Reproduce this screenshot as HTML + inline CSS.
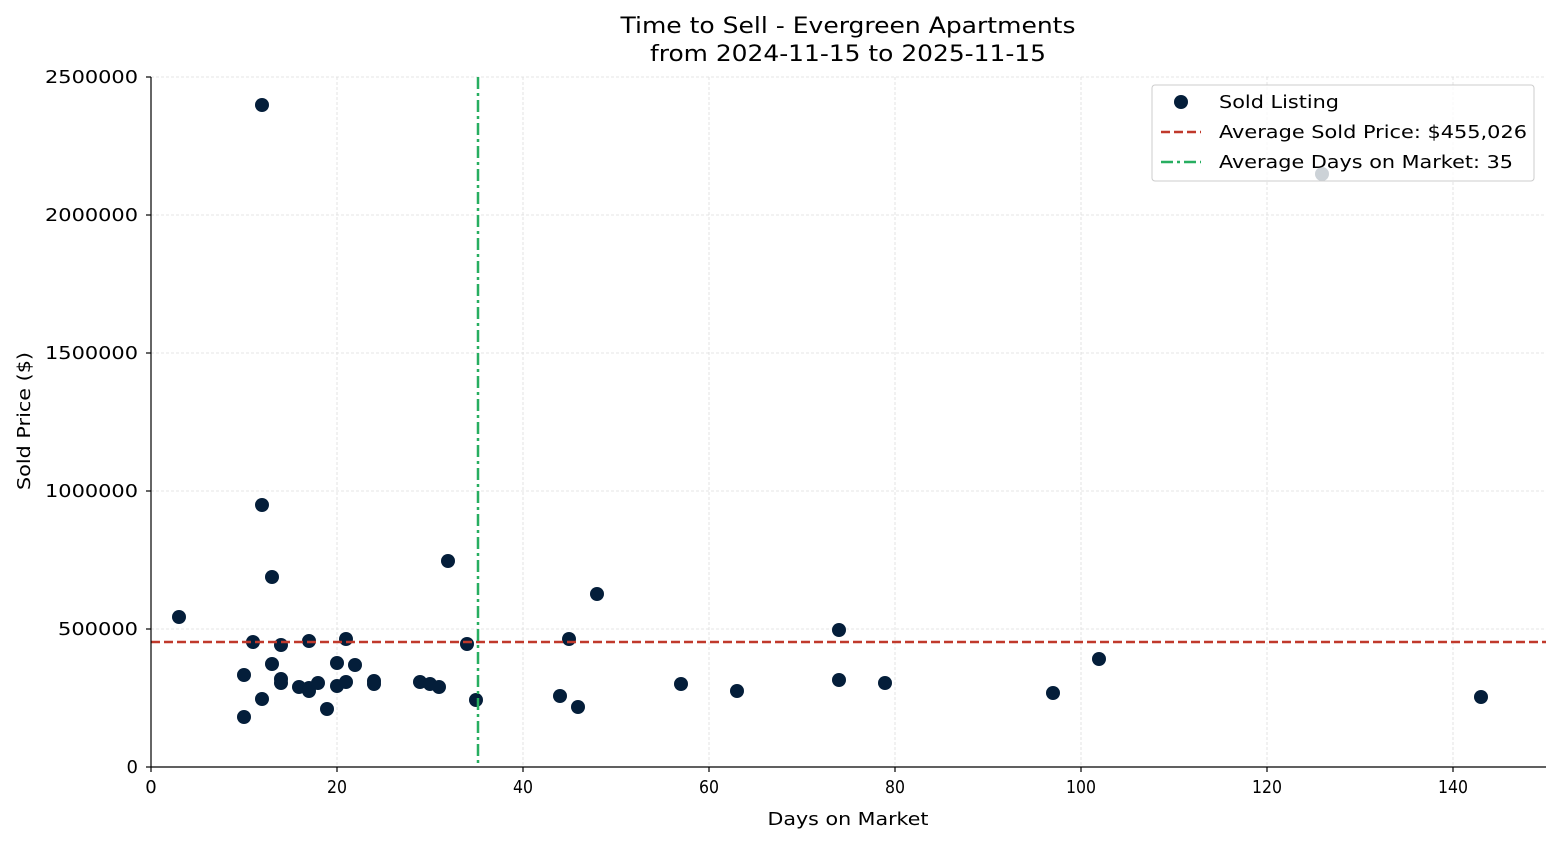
<!DOCTYPE html>
<html><head><meta charset="utf-8"><style>body{margin:0;background:#fff}svg{display:block}text{font-family:"DejaVu Sans",sans-serif;fill:#000}</style></head><body>
<svg width="1560" height="845" viewBox="0 0 1560 845">
<g stroke="#ddd" stroke-width="0.8" stroke-dasharray="3,2">
<line x1="151" y1="77" x2="151" y2="767"/><line x1="337" y1="77" x2="337" y2="767"/><line x1="523" y1="77" x2="523" y2="767"/><line x1="709" y1="77" x2="709" y2="767"/><line x1="895" y1="77" x2="895" y2="767"/><line x1="1081" y1="77" x2="1081" y2="767"/><line x1="1267" y1="77" x2="1267" y2="767"/><line x1="1453" y1="77" x2="1453" y2="767"/>
<line x1="151" y1="629" x2="1546" y2="629"/><line x1="151" y1="491" x2="1546" y2="491"/><line x1="151" y1="353" x2="1546" y2="353"/><line x1="151" y1="215" x2="1546" y2="215"/><line x1="151" y1="77" x2="1546" y2="77"/>
</g>
<g fill="#041e3a">
<circle cx="179" cy="617" r="7"/><circle cx="262" cy="105" r="7"/><circle cx="262" cy="505" r="7"/><circle cx="272" cy="577" r="7"/><circle cx="253" cy="642" r="7"/><circle cx="281" cy="645" r="7"/><circle cx="309" cy="641" r="7"/><circle cx="346" cy="639" r="7"/><circle cx="244" cy="675" r="7"/><circle cx="272" cy="664" r="7"/><circle cx="281" cy="679" r="7"/><circle cx="281" cy="683" r="7"/><circle cx="299" cy="687" r="7"/><circle cx="309" cy="688" r="7"/><circle cx="309" cy="691" r="7"/><circle cx="318" cy="683" r="7"/><circle cx="337" cy="663" r="7"/><circle cx="337" cy="686" r="7"/><circle cx="346" cy="682" r="7"/><circle cx="355" cy="665" r="7"/><circle cx="374" cy="681" r="7"/><circle cx="374" cy="684" r="7"/><circle cx="327" cy="709" r="7"/><circle cx="262" cy="699" r="7"/><circle cx="244" cy="717" r="7"/><circle cx="420" cy="682" r="7"/><circle cx="430" cy="684" r="7"/><circle cx="439" cy="687" r="7"/><circle cx="448" cy="561" r="7"/><circle cx="467" cy="644" r="7"/><circle cx="476" cy="700" r="7"/><circle cx="560" cy="696" r="7"/><circle cx="569" cy="639" r="7"/><circle cx="578" cy="707" r="7"/><circle cx="597" cy="594" r="7"/><circle cx="681" cy="684" r="7"/><circle cx="737" cy="691" r="7"/><circle cx="839" cy="630" r="7"/><circle cx="839" cy="680" r="7"/><circle cx="885" cy="683" r="7"/><circle cx="1053" cy="693" r="7"/><circle cx="1099" cy="659" r="7"/><circle cx="1322" cy="174" r="7"/><circle cx="1481" cy="697" r="7"/>
</g>
<line x1="151" y1="642" x2="1546" y2="642" stroke="#c0392b" stroke-width="2.5" stroke-dasharray="9,4"/>
<line x1="478" y1="77" x2="478" y2="767" stroke="#27ae60" stroke-width="2.5" stroke-dasharray="12,4,3,4"/>
<g stroke="#000" stroke-width="1.2">
<line x1="151" y1="77" x2="151" y2="767"/><line x1="151" y1="767" x2="1546" y2="767"/>
<line x1="151" y1="767" x2="151" y2="772"/><line x1="337" y1="767" x2="337" y2="772"/><line x1="523" y1="767" x2="523" y2="772"/><line x1="709" y1="767" x2="709" y2="772"/><line x1="895" y1="767" x2="895" y2="772"/><line x1="1081" y1="767" x2="1081" y2="772"/><line x1="1267" y1="767" x2="1267" y2="772"/><line x1="1453" y1="767" x2="1453" y2="772"/>
<line x1="146" y1="767" x2="151" y2="767"/><line x1="146" y1="629" x2="151" y2="629"/><line x1="146" y1="491" x2="151" y2="491"/><line x1="146" y1="353" x2="151" y2="353"/><line x1="146" y1="215" x2="151" y2="215"/><line x1="146" y1="77" x2="151" y2="77"/>
</g>
<g font-size="18" text-anchor="middle">
<text x="151" y="793">0</text><text x="337" y="793" textLength="20" lengthAdjust="spacingAndGlyphs">20</text><text x="523" y="793" textLength="20" lengthAdjust="spacingAndGlyphs">40</text><text x="709" y="793" textLength="20" lengthAdjust="spacingAndGlyphs">60</text><text x="895" y="793" textLength="20" lengthAdjust="spacingAndGlyphs">80</text><text x="1081" y="793" textLength="30" lengthAdjust="spacingAndGlyphs">100</text><text x="1267" y="793" textLength="30" lengthAdjust="spacingAndGlyphs">120</text><text x="1453" y="793" textLength="30" lengthAdjust="spacingAndGlyphs">140</text>
<text x="848" y="825" textLength="161" lengthAdjust="spacingAndGlyphs">Days on Market</text>
</g>
<g font-size="18" text-anchor="end">
<text x="138" y="773">0</text><text x="138" y="635" textLength="80" lengthAdjust="spacingAndGlyphs">500000</text><text x="138" y="497" textLength="93" lengthAdjust="spacingAndGlyphs">1000000</text><text x="138" y="359" textLength="93" lengthAdjust="spacingAndGlyphs">1500000</text><text x="138" y="221" textLength="93" lengthAdjust="spacingAndGlyphs">2000000</text><text x="138" y="83" textLength="93" lengthAdjust="spacingAndGlyphs">2500000</text>
</g>
<text font-size="18" text-anchor="middle" transform="translate(30,421) rotate(-90)" textLength="138" lengthAdjust="spacingAndGlyphs">Sold Price ($)</text>
<text font-size="22" text-anchor="middle" x="848" y="33" textLength="455" lengthAdjust="spacingAndGlyphs">Time to Sell - Evergreen Apartments</text>
<text font-size="22" text-anchor="middle" x="848" y="61" textLength="396" lengthAdjust="spacingAndGlyphs">from 2024-11-15 to 2025-11-15</text>
<rect x="1152" y="85" width="382" height="96" rx="3" fill="#fff" fill-opacity="0.8" stroke="#ccc"/>
<circle cx="1181" cy="102" r="7" fill="#041e3a"/>
<line x1="1161" y1="132" x2="1201" y2="132" stroke="#c0392b" stroke-width="2.5" stroke-dasharray="9,4"/>
<line x1="1161" y1="162" x2="1201" y2="162" stroke="#27ae60" stroke-width="2.5" stroke-dasharray="12,4,3,4"/>
<g font-size="18"><text x="1219" y="108" textLength="120" lengthAdjust="spacingAndGlyphs">Sold Listing</text><text x="1219" y="138" textLength="308" lengthAdjust="spacingAndGlyphs">Average Sold Price: $455,026</text><text x="1219" y="168" textLength="294" lengthAdjust="spacingAndGlyphs">Average Days on Market: 35</text></g>
</svg>
</body></html>
